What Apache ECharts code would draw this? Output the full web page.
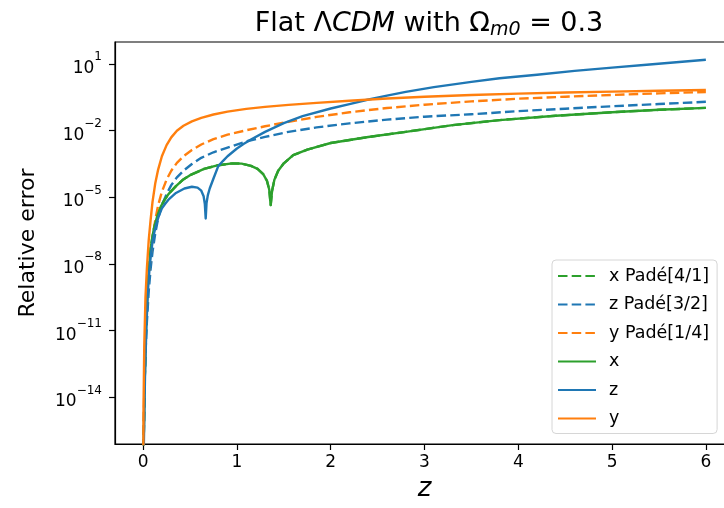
<!DOCTYPE html>
<html>
<head>
<meta charset="utf-8">
<script src="https://cdn.jsdelivr.net/npm/echarts@6/dist/echarts.min.js"></script>
<style>
  html, body { margin: 0; padding: 0; background: #fff; }
  #chart { width: 724px; height: 508px; }
</style>
</head>
<body>
<div id="chart"></div>
<script>
// Relative error of distance approximations versus redshift z (flat LCDM, Omega_m0 = 0.3)

// y series (orange) and z Pade (blue dashed) share one redshift grid
const zY = [0, 0.004, 0.012, 0.025, 0.04, 0.06, 0.08, 0.1, 0.13, 0.16, 0.2, 0.25, 0.3, 0.36, 0.43, 0.52, 0.62, 0.75, 0.9, 1.1, 1.3, 1.55, 1.85, 2.2, 2.6, 3.0, 3.5, 4.0, 4.5, 5.0, 5.5, 6.0];
const errY = [1e-20, 3.16e-15, 2.0e-12, 3.16e-10, 6.31e-9, 1.26e-7, 1e-6, 6.31e-6, 4.47e-5, 1.78e-4, 7.08e-4, 2.24e-3, 5.01e-3, 1e-2, 1.66e-2, 2.63e-2, 3.8e-2, 5.37e-2, 7.24e-2, 9.55e-2, 0.1175, 0.1445, 0.178, 0.224, 0.282, 0.339, 0.407, 0.468, 0.525, 0.575, 0.631, 0.676];
const errYPade = [1e-20, 3.16e-17, 3.16e-14, 5.01e-12, 1.26e-10, 2.51e-9, 2.51e-8, 1.26e-7, 1e-6, 4.47e-6, 1.78e-5, 6.31e-5, 1.58e-4, 3.55e-4, 7.08e-4, 1.35e-3, 2.4e-3, 4.17e-3, 6.61e-3, 1.047e-2, 1.58e-2, 2.51e-2, 4.17e-2, 6.76e-2, 0.1047, 0.148, 0.209, 0.275, 0.339, 0.407, 0.479, 0.55];

// z series (blue)
const zZPade = zY;
const errZPade = [1e-20, 1.58e-17, 1e-14, 1e-12, 2.51e-11, 6.31e-10, 6.31e-9, 3.55e-8, 2.51e-7, 1.12e-6, 4.47e-6, 1.41e-5, 3.55e-5, 7.94e-5, 1.58e-4, 3.16e-4, 6.03e-4, 1.07e-3, 1.74e-3, 3.31e-3, 5.25e-3, 8.91e-3, 1.41e-2, 2.14e-2, 3.16e-2, 4.27e-2, 5.5e-2, 7.59e-2, 9.77e-2, 0.126, 0.158, 0.2];
const zZ = [0, 0.008, 0.02, 0.035, 0.05, 0.06, 0.07, 0.085, 0.1, 0.12, 0.14, 0.17, 0.2, 0.235, 0.27, 0.35, 0.44, 0.52, 0.58, 0.62, 0.645, 0.658, 0.667, 0.676, 0.69, 0.71, 0.75, 0.8, 0.85, 0.9, 1.0, 1.07, 1.15, 1.3, 1.5, 1.7, 2.0, 2.2, 2.38, 2.6, 2.8, 3.1, 3.5, 3.8, 4.2, 4.6, 5.0, 5.4, 6.0];
const errZ = [1e-20, 1e-16, 1e-13, 1.58e-11, 5.0e-10, 2.2e-9, 7.9e-9, 3.2e-8, 1e-7, 2.8e-7, 6.3e-7, 1.58e-6, 3.2e-6, 5.2e-6, 7.9e-6, 1.58e-5, 2.5e-5, 3.0e-5, 2.75e-5, 2.0e-5, 1.12e-5, 5.0e-6, 1.12e-6, 5.6e-6, 1.26e-5, 2.5e-5, 7.1e-5, 2.5e-4, 4.3e-4, 7.1e-4, 1.58e-3, 2.5e-3, 4.0e-3, 8.9e-3, 2.2e-2, 4.5e-2, 0.1, 0.158, 0.24, 0.38, 0.56, 0.91, 1.58, 2.3, 3.3, 4.9, 6.9, 9.5, 15.5];

// x series (green)
const zX = [0, 0.006, 0.015, 0.03, 0.05, 0.08, 0.1, 0.12, 0.15, 0.19, 0.23, 0.27, 0.35, 0.42, 0.5, 0.65, 0.8, 0.95, 1.05, 1.15, 1.22, 1.28, 1.32, 1.345, 1.36, 1.375, 1.4, 1.44, 1.5, 1.6, 1.75, 2.0, 2.4, 2.8, 3.3, 3.8, 4.4, 5.0, 5.5, 6.0];
const errX = [1e-20, 1e-16, 3.2e-14, 1e-11, 1.26e-9, 5.0e-8, 1.78e-7, 5.0e-7, 1.41e-6, 4.0e-6, 7.9e-6, 1.41e-5, 3.2e-5, 6.0e-5, 1e-4, 1.9e-4, 2.8e-4, 3.4e-4, 3.3e-4, 2.6e-4, 1.9e-4, 1.12e-4, 5.6e-5, 2.2e-5, 4.5e-6, 2.0e-5, 6.3e-5, 1.58e-4, 3.4e-4, 7.9e-4, 1.41e-3, 2.8e-3, 5.2e-3, 8.9e-3, 1.78e-2, 3.0e-2, 4.7e-2, 6.8e-2, 8.7e-2, 0.107];
const errXPade = [1e-20, 1e-16, 3.2e-14, 1e-11, 1.26e-9, 5.0e-8, 1.78e-7, 5.0e-7, 1.41e-6, 4.0e-6, 7.9e-6, 1.41e-5, 3.2e-5, 6.0e-5, 1e-4, 1.9e-4, 2.8e-4, 3.4e-4, 3.3e-4, 2.6e-4, 1.9e-4, 1.12e-4, 5.6e-5, 2.2e-5, 4.5e-6, 2.0e-5, 6.3e-5, 1.58e-4, 3.4e-4, 7.9e-4, 1.41e-3, 2.8e-3, 5.2e-3, 8.9e-3, 1.78e-2, 3.0e-2, 4.7e-2, 6.8e-2, 8.7e-2, 0.107];

// axis ticks
const xTicks = [0, 1, 2, 3, 4, 5, 6];
const yTicks = [1e-14, 1e-11, 1e-8, 1e-5, 1e-2, 1e1];

const BLUE = '#1f77b4', ORANGE = '#ff7f0e', GREEN = '#2ca02c';
const FONT = 'DejaVu Sans';

function pairs(xs, ys) { return xs.map((x, i) => [x, ys[i]]); }

// "10" with a raised exponent, e.g. 10^-14
function powerLabel(v) {
  const e = Math.round(Math.log10(v));
  return '{b|10}{s|' + (e < 0 ? '\u2212' + (-e) : e) + '}';
}

function line(name, xs, ys, color, dashed) {
  return {
    name, type: 'line', data: pairs(xs, ys),
    showSymbol: false, symbol: 'none', clip: true,
    lineStyle: { color, width: 2.4, type: dashed ? [9.5, 4.2] : 'solid', cap: 'butt', join: 'round' },
    itemStyle: { color },
    emphasis: { disabled: true }
  };
}

const chart = echarts.init(document.getElementById('chart'), null, { renderer: 'canvas' });
chart.setOption({
  animation: false,
  backgroundColor: '#fff',
  title: {
    text: '{n|Flat \u039B}{i|CDM}{n| with \u03A9}{s|m0}{n| = 0.3}',
    left: 424, top: 3, textAlign: 'center',
    textStyle: {
      fontWeight: 'normal',
      rich: {
        n: { fontFamily: FONT, fontSize: 27, fontWeight: 'normal', color: '#000', lineHeight: 32 },
        i: { fontFamily: FONT, fontSize: 27, fontWeight: 'normal', fontStyle: 'italic', color: '#000', lineHeight: 32 },
        s: { fontFamily: FONT, fontSize: 19, fontWeight: 'normal', fontStyle: 'italic', color: '#000', padding: [12, 0, 0, 0] }
      }
    }
  },
  grid: { left: 115, top: 42, width: 619, height: 402, show: true, borderColor: '#000', borderWidth: 1.2, outerBoundsMode: 'none' },
  legend: {
    orient: 'vertical', left: 552, top: 260,
    padding: [7, 8, 6, 5], itemGap: 10.5, itemWidth: 38, itemHeight: 18,
    backgroundColor: 'rgba(255,255,255,0.8)', borderColor: '#d6d6d6', borderWidth: 1, borderRadius: 4,
    itemStyle: { opacity: 0 },
    textStyle: { fontFamily: FONT, fontSize: 17.5, color: '#000', padding: [0, 0, 0, 8] },
    data: ['x Pad\u00e9[4/1]', 'z Pad\u00e9[3/2]', 'y Pad\u00e9[1/4]', 'x', 'z', 'y']
  },
  xAxis: {
    type: 'value', min: -0.3, max: 6.3,
    name: 'z', nameLocation: 'middle', nameGap: 32, nameMoveOverlap: false,
    nameTextStyle: { fontFamily: FONT, fontSize: 26, fontStyle: 'italic', color: '#000', verticalAlign: 'top' },
    axisLine: { show: true, onZero: false, lineStyle: { color: '#000', width: 1.2 } },
    axisTick: { show: true, inside: false, length: 6, lineStyle: { color: '#000', width: 1.2 }, customValues: xTicks },
    axisLabel: { fontFamily: FONT, fontSize: 17, color: '#000', margin: 10, customValues: xTicks },
    splitLine: { show: false }
  },
  yAxis: {
    type: 'log', logBase: 10, min: 8e-17, max: 98,
    name: 'Relative error', nameLocation: 'middle', nameGap: 76, nameMoveOverlap: false,
    nameTextStyle: { fontFamily: FONT, fontSize: 22, color: '#000' },
    axisLine: { show: true, onZero: false, lineStyle: { color: '#000', width: 1.2 } },
    axisTick: { show: true, inside: false, length: 6, lineStyle: { color: '#000', width: 1.2 }, customValues: yTicks },
    axisLabel: {
      customValues: yTicks, formatter: powerLabel, margin: 13,
      rich: {
        b: { fontFamily: FONT, fontSize: 17, color: '#000', lineHeight: 26, verticalAlign: 'bottom' },
        s: { fontFamily: FONT, fontSize: 12, color: '#000', lineHeight: 14, verticalAlign: 'top' }
      }
    },
    splitLine: { show: false },
    minorTick: { show: false }
  },
  series: [
    line('x Pad\u00e9[4/1]', zX, errXPade, GREEN, true),
    line('z Pad\u00e9[3/2]', zZPade, errZPade, BLUE, true),
    line('y Pad\u00e9[1/4]', zY, errYPade, ORANGE, true),
    line('x', zX, errX, GREEN, false),
    line('z', zZ, errZ, BLUE, false),
    line('y', zY, errY, ORANGE, false)
  ]
});
</script>
</body>
</html>
